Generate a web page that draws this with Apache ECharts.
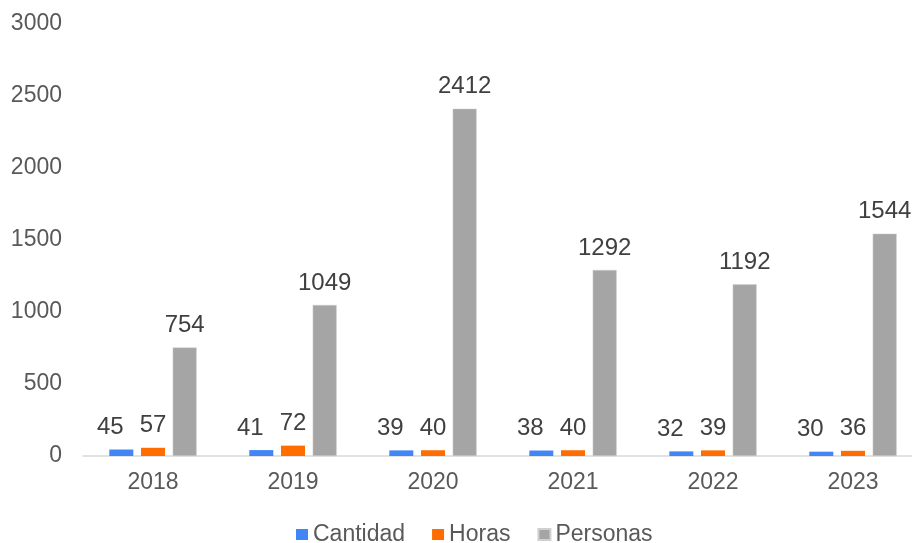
<!DOCTYPE html>
<html>
<head>
<meta charset="utf-8">
<script src="https://cdn.jsdelivr.net/npm/echarts@6/dist/echarts.min.js"></script>
<style>html,body{margin:0;padding:0;background:#fff}#c{width:912px;height:543px}</style>
</head>
<body>
<div id="c"></div>
<script>
const categories = ['2018','2019','2020','2021','2022','2023'];
const cantidad = [45, 41, 39, 38, 32, 30];
const horas = [57, 72, 40, 40, 39, 36];
const personas = [754, 1049, 2412, 1292, 1192, 1544];
const yTicks = [0, 500, 1000, 1500, 2000, 2500, 3000];

const chart = echarts.init(document.getElementById('c'));
const font = 'Liberation Sans, Arial, sans-serif';
const lbl = {show: true, position: 'top', distance: 10, fontSize: 24, color: '#404040', fontFamily: font};
chart.setOption({
  animation: false,
  textStyle: {fontFamily: font},
  grid: {left: 83, top: 24, width: 840, bottom: 87, containLabel: false, outerBoundsMode: 'none'},
  legend: {
    top: 523, left: 296, itemWidth: 12, itemHeight: 11, itemGap: 27, padding: 0,
    icon: 'rect',
    textStyle: {fontSize: 23, color: '#595959', fontFamily: font},
    data: ['Cantidad', 'Horas', 'Personas']
  },
  xAxis: {
    type: 'category', data: categories,
    axisLine: {lineStyle: {color: '#d9d9d9', width: 1.5}},
    axisTick: {show: false},
    axisLabel: {fontSize: 23, color: '#595959', margin: 15, fontFamily: font}
  },
  yAxis: {
    type: 'value', min: yTicks[0], max: yTicks[yTicks.length-1], interval: 500,
    splitLine: {show: false},
    axisLine: {show: false}, axisTick: {show: false},
    axisLabel: {fontSize: 23, color: '#595959', margin: 21, fontFamily: font, formatter: v => String(v)}
  },
  series: [
    {name: 'Cantidad', type: 'bar', data: cantidad, barWidth: 24, barGap: '32%',
     itemStyle: {color: '#4285F4'}, label: Object.assign({}, lbl, {offset: [-11, 0]})},
    {name: 'Horas', type: 'bar', data: horas, barWidth: 24,
     itemStyle: {color: '#FF6D01'}, label: lbl},
    {name: 'Personas', type: 'bar', data: personas, barWidth: 24,
     itemStyle: {color: '#A5A5A5', borderColor: '#d0d0d0', borderWidth: 0.5}, label: lbl}
  ]
});
</script>
</body>
</html>
